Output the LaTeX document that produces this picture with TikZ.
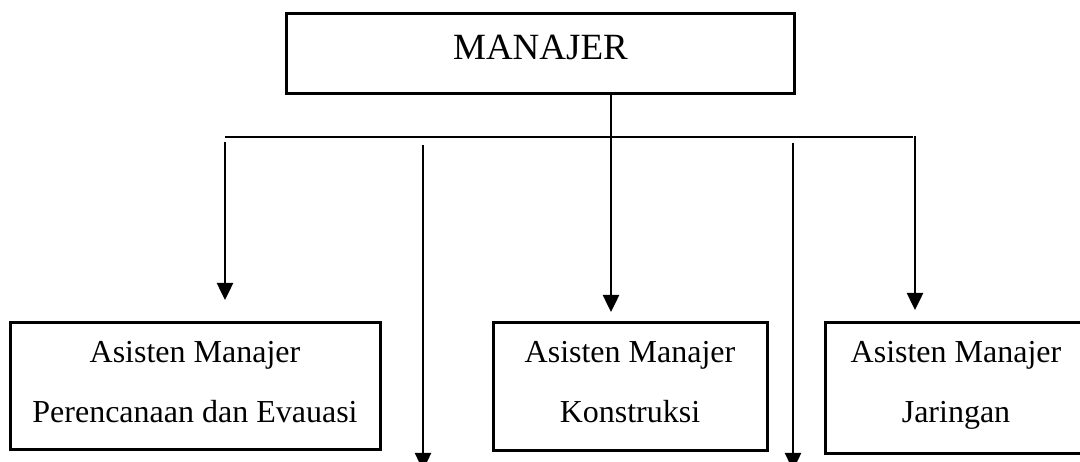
\documentclass[tikz,border=0pt]{standalone}
\usepackage{fontspec}
\setmainfont{Liberation Serif}
\usetikzlibrary{arrows.meta}
\begin{document}
\begin{tikzpicture}[x=1pt,y=-1pt,
  box/.style={draw,line width=3pt,inner sep=0pt,rectangle},
  lbl/.style={anchor=base,inner sep=0pt,font=\fontsize{32}{36}\selectfont},
  conn/.style={line width=2.5pt,-{Triangle[width=16pt,length=17pt]}},
  bar/.style={line width=1.5pt}]
\useasboundingbox (0,0) rectangle (1080,462);
% boxes
\node[box,minimum width=508pt,minimum height=80pt] (manajer) at (540.5,54) {};
\node[anchor=base,inner sep=0pt,font=\fontsize{37}{40}\selectfont] (manajerT) at (540.5,60) {MANAJER};
\node[box,minimum width=370pt,minimum height=127pt] (ren) at (195,386.5) {};
\node[lbl] (renA) at (195,363) {Asisten Manajer};
\node[lbl] (renB) at (195,423) {Perencanaan dan Evauasi};
\node[box,minimum width=274pt,minimum height=128pt] (kon) at (630,387) {};
\node[lbl] (konA) at (630,363) {Asisten Manajer};
\node[lbl] (konB) at (630,423) {Konstruksi};
\node[box,minimum width=262pt,minimum height=131pt] (jar) at (956,388.5) {};
\node[lbl] (jarA) at (956,363) {Asisten Manajer};
\node[lbl] (jarB) at (956,423) {Jaringan};
% coordinates
\coordinate (hL) at (225,137);
\coordinate (hR) at (913,137);
\coordinate (m1) at (611,92);
\coordinate (t1) at (225,300);
\coordinate (s1) at (225,142);
\coordinate (t2) at (611,312);
\coordinate (s3) at (915,136);
\coordinate (t3) at (915,310);
\coordinate (s4) at (423,145);
\coordinate (t4) at (423,470);
\coordinate (s5) at (793,143);
\coordinate (t5) at (793,470);
% connectors
\draw[bar] (hL) -- (hR);
\draw[conn] (m1) -- (t2);
\draw[conn] (s1) -- (t1);
\draw[conn] (s3) -- (t3);
\draw[conn] (s4) -- (t4);
\draw[conn] (s5) -- (t5);
\end{tikzpicture}
\end{document}
